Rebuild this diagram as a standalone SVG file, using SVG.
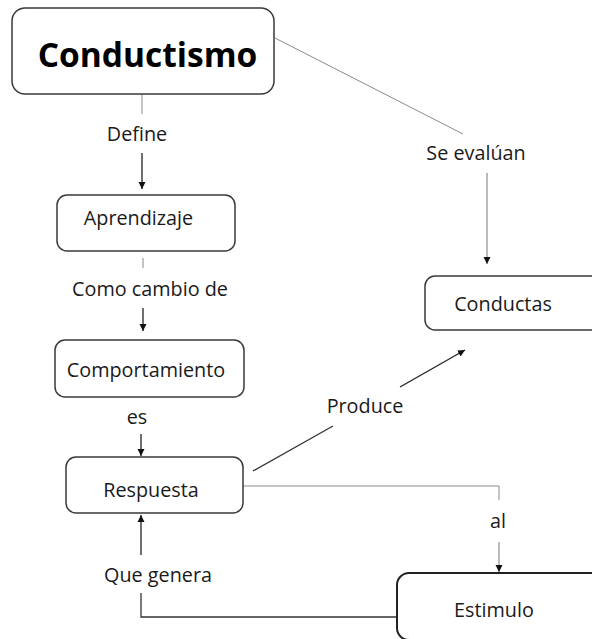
<svg xmlns="http://www.w3.org/2000/svg" width="592" height="639" viewBox="0 0 592 639">
  <style>
    .box { fill: #ffffff; stroke: #3a3a3a; stroke-width: 1.5; }
    .txt { font-family: "Open Sans", "Liberation Sans", sans-serif; font-size: 19.8px; fill: #1a1a1a; text-anchor: middle; }
    .title { font-family: "Open Sans", "Liberation Sans", sans-serif; font-size: 33.5px; font-weight: bold; fill: #000000; text-anchor: middle; }
    .thin { fill: none; stroke: #8a8a8a; stroke-width: 1; }
    .line { fill: none; stroke: #333333; stroke-width: 1.3; }
    .arrow { fill: none; stroke: #222222; stroke-width: 1.3; marker-end: url(#ah); }
    .arrowthin { fill: none; stroke: #777777; stroke-width: 1; marker-end: url(#ah); }
  </style>
  <defs>
    <marker id="ah" markerWidth="8" markerHeight="8" refX="7" refY="4" orient="auto" markerUnits="userSpaceOnUse">
      <path d="M0,0.5 L7,4 L0,7.5 Z" fill="#111111"/>
    </marker>
  </defs>
  <rect width="592" height="639" fill="#ffffff"/>

  <g id="connectors">
    <!-- Conductismo -> Aprendizaje (Define) -->
    <line class="thin" x1="142" y1="94" x2="142" y2="114"/>
    <text class="txt" x="137" y="141">Define</text>
    <line class="arrow" x1="142" y1="153" x2="142" y2="189"/>
    <!-- Aprendizaje -> Comportamiento -->
    <line class="thin" x1="143" y1="258" x2="143" y2="268"/>
    <text class="txt" x="150" y="296">Como cambio de</text>
    <line class="arrow" x1="143" y1="308" x2="143" y2="331"/>
    <!-- Comportamiento -> Respuesta -->
    <text class="txt" x="137" y="424">es</text>
    <line class="arrow" x1="141" y1="434" x2="141" y2="456"/>
    <!-- Conductismo -> Conductas -->
    <line class="thin" x1="275" y1="38" x2="463" y2="134"/>
    <text class="txt" x="476" y="160">Se evalúan</text>
    <line class="arrowthin" x1="487" y1="173" x2="487" y2="264"/>
    <!-- Respuesta -> Conductas (Produce) -->
    <line class="line" x1="253" y1="471" x2="333" y2="426"/>
    <text class="txt" x="365" y="413">Produce</text>
    <line class="arrow" x1="400" y1="387" x2="465" y2="350"/>
    <!-- Respuesta -> Estimulo (al) -->
    <polyline class="thin" points="243,486 499,486 499,500"/>
    <text class="txt" x="498" y="528">al</text>
    <line class="arrowthin" x1="499" y1="542" x2="499" y2="572"/>
    <!-- Estimulo -> Respuesta (Que genera) -->
    <polyline class="line" points="397,617 141,617 141,593"/>
    <text class="txt" x="158" y="582">Que genera</text>
    <line class="arrow" x1="141" y1="555" x2="141" y2="515"/>
  </g>

  <g id="node-conductismo">
    <rect class="box" x="12" y="8" width="262" height="86" rx="13"/>
    <text class="title" x="147.5" y="67">Conductismo</text>
  </g>
  <g id="node-aprendizaje">
    <rect class="box" x="57" y="195" width="178" height="56" rx="10"/>
    <text class="txt" x="138.5" y="225">Aprendizaje</text>
  </g>
  <g id="node-comportamiento">
    <rect class="box" x="55" y="340" width="189" height="57" rx="10"/>
    <text class="txt" x="146" y="377">Comportamiento</text>
  </g>
  <g id="node-respuesta">
    <rect class="box" x="66" y="457" width="177" height="56" rx="10"/>
    <text class="txt" x="151" y="497">Respuesta</text>
  </g>
  <g id="node-conductas">
    <rect class="box" x="425" y="276" width="190" height="54" rx="10"/>
    <text class="txt" x="503" y="311">Conductas</text>
  </g>
  <g id="node-estimulo">
    <rect class="box" x="397" y="573" width="220" height="67" rx="12" style="stroke:#222222;stroke-width:2"/>
    <text class="txt" x="494" y="617">Estimulo</text>
  </g>
</svg>
